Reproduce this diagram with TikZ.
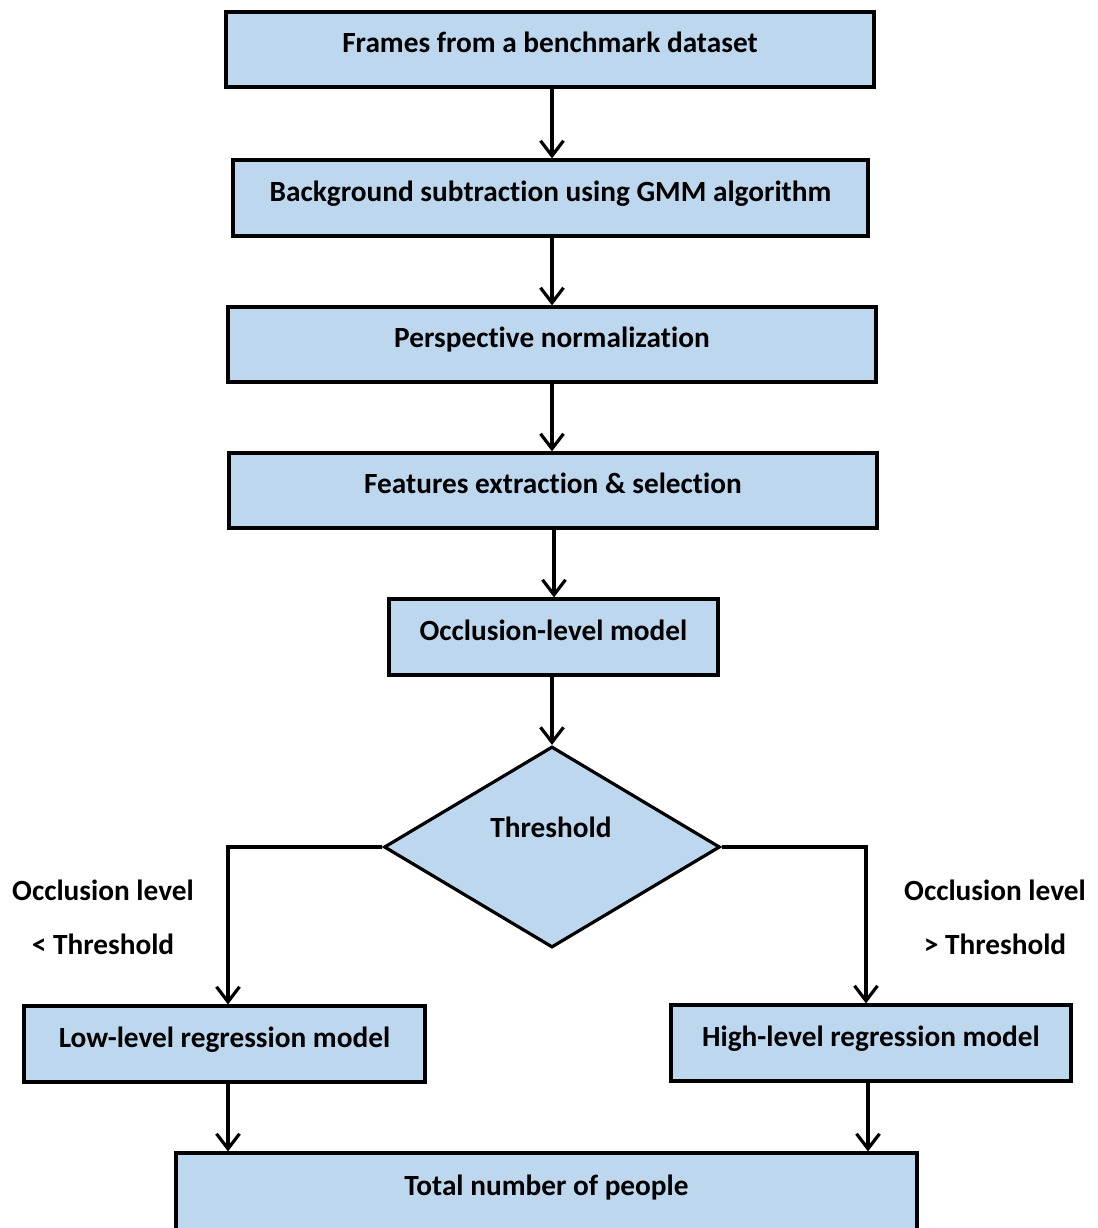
\documentclass[tikz,border=0pt]{standalone}
\usepackage{fontspec}
\setmainfont{Carlito}[Ligatures=NoCommon]
\usetikzlibrary{shapes.geometric,arrows.meta}
\definecolor{boxblue}{RGB}{189,215,238}
\begin{document}
\begin{tikzpicture}[x=1pt,y=-1pt,
  font=\fontsize{29.3}{34}\selectfont\bfseries,
  stepbox/.style={draw=black, fill=boxblue, line width=3.2pt, rectangle,
    inner sep=0pt, text height=21pt, text depth=15pt},
  decbox/.style={draw=black, fill=boxblue, line width=3.2pt, diamond,
    inner sep=0pt, minimum width=336pt, minimum height=201pt},
  arr/.style={line width=3.2pt, -{Straight Barb[length=15pt,width=23pt,line width=3.2pt]}}]
\useasboundingbox (0,0) rectangle (1097,1228);

% processing chain
\node[stepbox, minimum width=648pt, minimum height=75pt] (b1) at (550,49.5) {Frames from a benchmark dataset};
\node[stepbox, minimum width=635pt, minimum height=76pt] (b2) at (550.5,198) {Background subtraction using GMM algorithm};
\node[stepbox, minimum width=648pt, minimum height=75pt] (b3) at (552,344.5) {Perspective normalization};
\node[stepbox, minimum width=648pt, minimum height=75pt] (b4) at (553,490.5) {Features extraction \& selection};
\node[stepbox, minimum width=329pt, minimum height=76pt] (b5) at (553.5,637) {Occlusion-level model};

% decision
\node[decbox] (dec) at (552,847) {};
\node (dectext) at (551,827) {Threshold};

% regression branches
\node[stepbox, minimum width=401pt, minimum height=76pt] (low) at (224.5,1044) {Low-level regression model};
\node[stepbox, minimum width=400pt, minimum height=76pt] (high) at (871,1043) {High-level regression model};
\node[stepbox, minimum width=741pt, minimum height=78pt] (total) at (546.5,1192) {Total number of people};

% branch conditions
\node (lcond1) at (103,890) {Occlusion level};
\node (lcond2) at (103,944) {< Threshold};
\node (rcond1) at (995,890) {Occlusion level};
\node (rcond2) at (995,944) {> Threshold};

% connector columns
\coordinate (ax) at (552,0);
\coordinate (ax2) at (554,0);
\coordinate (lx) at (228,0);
\coordinate (rx) at (866,0);
\coordinate (rx2) at (868,0);

\draw[arr] (b1.south -| ax) -- (b2.north -| ax);
\draw[arr] (b2.south -| ax) -- (b3.north -| ax);
\draw[arr] (b3.south -| ax) -- (b4.north -| ax);
\draw[arr] (b4.south -| ax2) -- (b5.north -| ax2);
\draw[arr] (b5.south -| dec.north) -- (dec.north);
\draw[arr] (dec.west) -| (low.north -| lx);
\draw[arr] (dec.east) -| (high.north -| rx);
\draw[arr] (low.south -| lx) -- (total.north -| lx);
\draw[arr] (high.south -| rx2) -- (total.north -| rx2);
\end{tikzpicture}
\end{document}
